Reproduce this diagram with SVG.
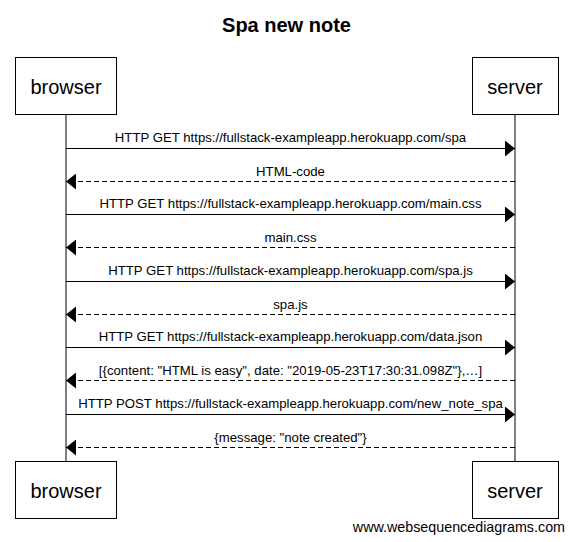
<svg xmlns="http://www.w3.org/2000/svg" width="573" height="542" viewBox="0 0 573 542">
<defs>
<style>
text{font-family:"Liberation Sans",Arial,sans-serif;fill:#000}
.title{font-size:20px;font-weight:bold}
.actor{font-size:20px}
.msg{font-size:13.2px}
.wm{font-size:14.3px}
.box{fill:#fff;stroke:#000;stroke-width:1}
.life{stroke:#000;stroke-width:1}
.req{stroke:#000;stroke-width:1;fill:none}
.resp{stroke:#000;stroke-width:1;fill:none;stroke-dasharray:5,3}
</style>
<marker id="ah" viewBox="0 0 10 16" refX="10" refY="8" markerWidth="10" markerHeight="16" markerUnits="userSpaceOnUse" orient="auto">
<path d="M0,0 L10,8 L0,16 Z" fill="#000"/>
</marker>
</defs>
<rect width="573" height="542" fill="#fff"/>
<text class="title" x="286.5" y="32" text-anchor="middle">Spa new note</text>
<g id="lifelines">
<line class="life" x1="66" y1="114" x2="66" y2="461"/>
<line class="life" x1="515" y1="114" x2="515" y2="461"/>
</g>
<g id="browser-top">
<rect class="box" x="15.5" y="57.5" width="101" height="57"/>
<text class="actor" x="66" y="94" text-anchor="middle">browser</text>
</g>
<g id="server-top">
<rect class="box" x="472.5" y="57.5" width="86" height="57"/>
<text class="actor" x="515" y="94" text-anchor="middle">server</text>
</g>
<g id="browser-bottom">
<rect class="box" x="15.5" y="461.5" width="101" height="57"/>
<text class="actor" x="66" y="498" text-anchor="middle">browser</text>
</g>
<g id="server-bottom">
<rect class="box" x="472.5" y="461.5" width="86" height="57"/>
<text class="actor" x="515" y="498" text-anchor="middle">server</text>
</g>
<g id="connectors">
<line class="req" x1="66" y1="148.5" x2="515" y2="148.5" marker-end="url(#ah)"/>
<text class="msg" x="290.5" y="142" text-anchor="middle">HTTP GET https://fullstack-exampleapp.herokuapp.com/spa</text>
<line class="resp" x1="515" y1="181.5" x2="66" y2="181.5" marker-end="url(#ah)"/>
<text class="msg" x="290.5" y="176" text-anchor="middle">HTML-code</text>
<line class="req" x1="66" y1="214.5" x2="515" y2="214.5" marker-end="url(#ah)"/>
<text class="msg" x="290.5" y="208" text-anchor="middle">HTTP GET https://fullstack-exampleapp.herokuapp.com/main.css</text>
<line class="resp" x1="515" y1="247.5" x2="66" y2="247.5" marker-end="url(#ah)"/>
<text class="msg" x="290.5" y="242" text-anchor="middle">main.css</text>
<line class="req" x1="66" y1="281.5" x2="515" y2="281.5" marker-end="url(#ah)"/>
<text class="msg" x="290.5" y="275" text-anchor="middle">HTTP GET https://fullstack-exampleapp.herokuapp.com/spa.js</text>
<line class="resp" x1="515" y1="314.5" x2="66" y2="314.5" marker-end="url(#ah)"/>
<text class="msg" x="290.5" y="309" text-anchor="middle">spa.js</text>
<line class="req" x1="66" y1="347.5" x2="515" y2="347.5" marker-end="url(#ah)"/>
<text class="msg" x="290.5" y="341" text-anchor="middle">HTTP GET https://fullstack-exampleapp.herokuapp.com/data.json</text>
<line class="resp" x1="515" y1="380.5" x2="66" y2="380.5" marker-end="url(#ah)"/>
<text class="msg" x="290.5" y="375" text-anchor="middle">[{content: "HTML is easy", date: "2019-05-23T17:30:31.098Z"},…]</text>
<line class="req" x1="66" y1="414.5" x2="515" y2="414.5" marker-end="url(#ah)"/>
<text class="msg" x="290.5" y="408" text-anchor="middle">HTTP POST https://fullstack-exampleapp.herokuapp.com/new_note_spa</text>
<line class="resp" x1="515" y1="447.5" x2="66" y2="447.5" marker-end="url(#ah)"/>
<text class="msg" x="290.5" y="442" text-anchor="middle">{message: "note created"}</text>
</g>
<text class="wm" x="565" y="532" text-anchor="end">www.websequencediagrams.com</text>
</svg>
